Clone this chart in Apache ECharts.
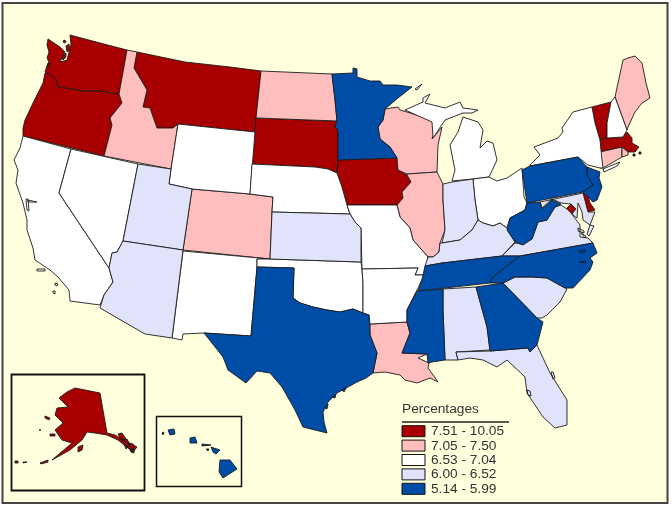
<!DOCTYPE html>
<html><head><meta charset="utf-8">
<style>html,body{margin:0;padding:0;background:#fff}#c{width:672px;height:508px}</style>
<script src="https://cdn.jsdelivr.net/npm/echarts@6/dist/echarts.min.js"></script>
</head><body><div id="c"></div>
<script>
const states=["Washington","Oregon","Montana","South Dakota","Iowa","Vermont","Massachusetts","Delaware","District of Columbia","Alaska",
"Idaho","North Dakota","Wisconsin","Illinois","Colorado","Louisiana","Maine","Connecticut","Rhode Island",
"California","Nevada","Wyoming","Nebraska","New Mexico","Oklahoma","Missouri","Arkansas","Michigan","Ohio","New York","New Hampshire",
"Utah","Arizona","Kansas","Indiana","Kentucky","Virginia","Alabama","South Carolina","Florida","Maryland",
"Minnesota","Texas","Tennessee","Mississippi","Georgia","North Carolina","West Virginia","Pennsylvania","New Jersey","Hawaii"];
const rates=[8.2,8.0,8.4,7.9,7.7,8.1,7.8,7.6,10.05,8.6,
7.3,7.2,7.4,7.2,7.3,7.1,7.4,7.3,7.2,
6.8,6.9,6.7,6.8,6.7,6.6,6.9,6.8,6.9,6.7,6.8,6.6,
6.3,6.2,6.4,6.3,6.2,6.1,6.2,6.3,6.4,6.2,
5.8,5.7,5.6,5.14,5.7,5.6,5.5,5.9,5.8,5.6];
const legendLabels=["7.51 - 10.05","7.05 - 7.50","6.53 - 7.04","6.00 - 6.52","5.14 - 5.99"];
const legendTitle="Percentages";
const classMin=[7.51,7.05,6.53,6.00,5.14];
const classMax=[10.05,7.50,7.04,6.52,5.99];
const classColors=["#A80000","#FFBEBE","#FFFFFF","#E1E3FB","#004DA8"];
// Outlines (x, y in picture space)
const outlines={
"Washington":[[[48,39],[60,47],[65,52],[60,62],[67,60],[71,45],[70,35],[100,43],[127,50],[119,94],[100,91],[83,91],[72,89],[58,87],[55,78],[47,73],[45,72],[47,66],[49,62],[47,58],[49,52],[47,45]],[[64,40],[66,41],[65,43],[63,42]],[[66,46],[69,44],[70,50],[67,52]],[[62,57],[66,53],[66,57],[63,60]],[[48,63],[50,63],[49,67],[47,67]]],
"Oregon":[[[45,73],[47,73],[55,78],[58,87],[72,89],[83,91],[100,91],[119,94],[122,103],[110,118],[112,125],[104,156],[23,136],[23,128],[25,120],[33,103],[43,83]]],
"Idaho":[[[127,50],[137,52],[134,68],[147,90],[143,107],[150,108],[157,128],[173,128],[178,124],[171,169],[104,156],[112,125],[110,118],[122,103],[119,94]]],
"Montana":[[[137,52],[185,62],[230,67],[261,71],[256,118],[255,132],[178,124],[173,128],[157,128],[150,108],[143,107],[147,90],[134,68]]],
"Wyoming":[[[178,124],[255,132],[250,194],[192,189],[169,184],[171,169]]],
"Utah":[[[138,164],[171,169],[169,184],[192,189],[183,250],[123,241]]],
"Colorado":[[[192,189],[250,194],[273,197],[272,212],[270,259],[183,250]]],
"Nebraska":[[[252,164],[315,167],[328,169],[337,173],[342,187],[347,205],[350,214],[272,212],[273,197],[250,194]]],
"South Dakota":[[[256,118],[337,121],[335,127],[338,130],[338,160],[337,173],[328,169],[315,167],[252,164]]],
"North Dakota":[[[261,71],[332,74],[335,100],[337,121],[256,118]]],
"Minnesota":[[[332,74],[353,73],[353,68],[357,69],[357,77],[370,81],[380,81],[383,85],[397,85],[412,87],[398,98],[385,109],[383,120],[378,127],[380,139],[390,147],[397,158],[338,160],[338,130],[335,127],[337,121],[335,100]]],
"Iowa":[[[338,160],[397,158],[398,170],[407,175],[411,182],[402,192],[403,198],[397,205],[347,205],[342,187],[337,173]]],
"Wisconsin":[[[397,158],[390,147],[380,139],[378,127],[383,120],[385,109],[398,107],[400,110],[407,112],[432,120],[435,130],[432,139],[442,127],[438,145],[437,172],[407,174],[398,170]]],
"Illinois":[[[407,174],[437,172],[443,184],[443,200],[445,230],[440,243],[439,252],[433,257],[428,257],[413,240],[410,228],[400,217],[397,205],[403,198],[402,192],[411,182],[407,175]]],
"Missouri":[[[347,205],[397,205],[400,217],[410,228],[413,240],[428,257],[427,267],[424,275],[415,275],[418,268],[362,269],[361,228],[355,222],[350,214]]],
"Kansas":[[[272,212],[350,214],[355,222],[361,228],[361,262],[270,259]]],
"Oklahoma":[[[257,259],[270,259],[361,262],[362,269],[363,283],[363,313],[353,309],[340,312],[327,310],[313,307],[300,303],[293,298],[294,268],[257,267]]],
"Texas":[[[257,267],[294,268],[293,298],[300,303],[313,307],[327,310],[340,312],[353,309],[363,313],[369,315],[370,335],[377,353],[373,373],[366,378],[357,382],[348,387],[337,393],[328,402],[323,412],[324,422],[327,433],[303,427],[295,410],[282,387],[270,373],[257,371],[246,383],[228,370],[223,357],[204,333],[251,336]],[[342,390],[346,388],[344,392]],[[332,397],[336,394],[335,398]],[[325,408],[328,404],[327,409]]],
"New Mexico":[[[183,251],[270,259],[257,259],[257,267],[251,336],[204,333],[183,334],[182,340],[172,338]]],
"Arizona":[[[123,241],[183,250],[172,338],[145,334],[100,308],[104,295],[113,282],[109,268],[112,253],[117,252]]],
"Nevada":[[[71,149],[138,164],[123,241],[117,252],[112,253],[109,268],[59,193]]],
"California":[[[23,136],[71,149],[59,193],[109,268],[113,282],[104,295],[100,305],[70,301],[69,290],[58,277],[50,270],[35,260],[33,248],[27,230],[27,220],[23,203],[16,183],[18,170],[14,160],[20,148]],[[37,269],[45,269],[45,271],[37,271]],[[55,283],[58,284],[57,286],[55,285]],[[53,291],[55,291],[55,294],[53,293]],[[26,199],[28,199],[29,211],[27,210]],[[28,200],[37,202],[37,203],[28,202]]],
"Arkansas":[[[362,269],[418,268],[415,275],[424,275],[418,288],[407,310],[407,322],[370,324],[369,315],[363,313],[363,283]]],
"Louisiana":[[[370,324],[407,322],[410,333],[402,353],[427,354],[418,358],[429,363],[428,368],[438,382],[430,378],[417,383],[405,380],[400,375],[385,372],[373,373],[377,353],[370,335]]],
"Mississippi":[[[417,291],[443,289],[443,310],[445,360],[432,362],[428,363],[427,354],[402,353],[410,333],[407,322],[407,310]]],
"Tennessee":[[[425,266],[442,263],[502,256],[520,256],[508,265],[492,278],[490,283],[418,291],[422,280]]],
"North Carolina":[[[520,256],[593,243],[597,253],[590,258],[593,262],[590,270],[573,288],[565,288],[547,278],[533,277],[515,277],[503,283],[490,283],[492,278],[508,265]],[[579,251],[585,250],[585,252],[580,253]],[[580,262],[586,261],[585,263]]],
"Virginia":[[[502,256],[515,243],[522,244],[532,239],[538,222],[547,220],[555,207],[561,205],[567,209],[571,213],[580,225],[580,237],[588,238],[593,243],[520,256]],[[590,225],[594,226],[589,236],[587,234]],[[578,228],[584,231],[584,233],[578,231]],[[581,233],[586,236],[585,238]]],
"West Virginia":[[[527,203],[540,202],[542,209],[552,200],[561,204],[555,207],[547,220],[538,222],[532,239],[523,245],[515,242],[507,230],[510,218],[525,210]]],
"Maryland":[[[540,202],[583,193],[588,212],[595,212],[590,225],[583,220],[582,212],[578,203],[577,218],[572,214],[576,209],[571,204],[561,203],[552,199],[542,208]]],
"Delaware":[[[583,193],[587,193],[590,203],[595,210],[588,212]]],
"District of Columbia":[[[571,204],[576,209],[571,214],[566,209]]],
"Pennsylvania":[[[522,170],[530,166],[578,157],[587,167],[587,175],[593,185],[583,192],[527,203]]],
"New Jersey":[[[587,167],[600,172],[599,178],[602,187],[597,200],[593,202],[583,192],[593,185],[587,175]]],
"New York":[[[530,165],[540,155],[534,147],[558,138],[563,132],[562,128],[573,112],[592,107],[595,123],[600,140],[602,160],[603,168],[600,168],[588,165],[578,157],[530,166]],[[603,169],[620,162],[617,166],[604,172]]],
"Vermont":[[[592,107],[611,102],[607,123],[607,138],[600,140],[595,123]]],
"New Hampshire":[[[611,102],[615,97],[627,130],[623,137],[607,138],[607,123]]],
"Maine":[[[615,97],[623,60],[628,58],[635,56],[642,63],[646,83],[650,98],[642,103],[635,112],[628,127],[627,130]]],
"Massachusetts":[[[600,140],[607,138],[623,137],[627,132],[632,138],[632,143],[639,147],[635,152],[628,152],[622,147],[600,152]],[[633,154],[635,154],[635,156],[633,156]],[[639,152],[641,152],[641,154],[639,154]]],
"Connecticut":[[[600,152],[622,147],[622,157],[603,168],[600,168]]],
"Rhode Island":[[[622,147],[628,152],[628,155],[622,157]]],
"Ohio":[[[473,179],[489,177],[497,181],[507,178],[522,168],[524,197],[527,203],[525,210],[510,218],[507,228],[500,223],[493,226],[483,223],[478,220],[475,200]]],
"Indiana":[[[443,184],[452,182],[473,179],[475,200],[478,220],[472,230],[460,240],[442,243],[445,230],[443,200]]],
"Kentucky":[[[440,243],[442,243],[460,240],[472,230],[478,220],[483,223],[493,226],[500,223],[507,228],[515,242],[502,256],[442,263],[425,266],[428,257],[433,257],[439,252]]],
"Michigan":[[[452,181],[473,179],[489,177],[497,160],[493,143],[487,141],[480,148],[483,130],[478,122],[463,117],[458,132],[450,145],[455,170]],[[405,110],[423,102],[423,98],[430,94],[425,103],[445,108],[460,102],[463,108],[478,110],[472,113],[463,113],[445,120],[433,138],[432,122]],[[415,89],[422,84],[423,85],[417,90]]],
"Alabama":[[[443,289],[476,287],[487,327],[490,350],[456,352],[458,360],[445,360],[443,310]]],
"Georgia":[[[476,287],[503,283],[537,318],[543,322],[537,345],[530,352],[528,348],[490,351],[487,327]]],
"South Carolina":[[[503,283],[515,277],[533,277],[547,278],[567,289],[560,302],[547,315],[542,318],[537,318]]],
"Florida":[[[456,352],[490,351],[528,348],[530,352],[537,345],[550,373],[567,400],[567,425],[555,428],[543,417],[527,393],[525,377],[507,360],[497,367],[483,360],[470,358],[458,360]],[[551,372],[553,372],[555,378],[553,379]],[[527,390],[530,391],[531,396],[528,395]]],
"Alaska":[[[75,388],[100,393],[107,433],[115,435],[120,438],[137,447],[133,452],[118,440],[107,435],[95,433],[87,432],[82,440],[70,450],[52,460],[72,443],[62,440],[55,430],[63,423],[55,415],[57,408],[68,407],[59,398],[67,392]],[[45,416],[50,418],[49,420],[45,418]],[[50,434],[55,434],[55,436],[50,436]],[[78,447],[83,445],[82,450],[78,452]],[[40,463],[48,460],[48,462],[41,464]],[[15,461],[18,461],[18,463],[15,463]],[[23,462],[27,462],[27,463],[23,463]],[[39,430],[41,430],[40,431]],[[118,434],[122,433],[126,439],[121,440]],[[122,440],[127,439],[130,445],[126,446]],[[128,443],[133,444],[135,449],[130,449]],[[124,444],[128,447],[126,449]],[[130,450],[134,450],[134,453],[131,452]]],
"Hawaii":[[[220,460],[230,460],[237,469],[223,478],[219,472]],[[211,447],[220,450],[216,454],[213,452]],[[202,444],[211,445],[210,446],[202,446]],[[206,449],[209,449],[208,451]],[[190,438],[195,437],[197,443],[190,443]],[[168,430],[174,429],[175,434],[170,435]],[[162,433],[164,432],[163,435]]]
};
const geo={type:"FeatureCollection",features:states.map(n=>({type:"Feature",properties:{name:n},
  geometry:{type:"MultiPolygon",coordinates:outlines[n].map(r=>[r.concat([r[0]]).map(p=>[p[0],-p[1]])])}}))};
echarts.registerMap("usa",geo);
const chart=echarts.init(document.getElementById("c"),null,{renderer:"canvas"});
const legendX=402,legendTop=425.7,rowH=14.4;
const graphics=[
 {type:"rect",z:0,shape:{x:2.5,y:3,width:665,height:500},style:{fill:"#FFFFDE",stroke:"#444",lineWidth:2}},
 {type:"rect",z:1,shape:{x:11.5,y:374.5,width:133,height:116},style:{fill:"none",stroke:"#111",lineWidth:1.8}},
 {type:"rect",z:1,shape:{x:156.5,y:416.5,width:85,height:70},style:{fill:"none",stroke:"#111",lineWidth:1.5}},
 {type:"text",z:5,style:{text:legendTitle,x:legendX,y:416.5,textVerticalAlign:"bottom",font:"13.7px 'Liberation Sans'",fill:"#333"}},
 {type:"line",z:5,shape:{x1:legendX,y1:422,x2:509,y2:422},style:{stroke:"#222",lineWidth:1.3}}
];
legendLabels.forEach((t,i)=>{
 graphics.push({type:"rect",z:5,shape:{x:legendX,y:legendTop+i*rowH,width:23,height:11},style:{fill:classColors[i],stroke:"#111",lineWidth:1}});
 graphics.push({type:"text",z:5,style:{text:t,x:431,y:legendTop+i*rowH+5.8,textVerticalAlign:"middle",font:"13.7px 'Liberation Sans'",fill:"#333"}});
});
chart.setOption({
 animation:false,
 graphic:{elements:graphics},
 visualMap:{show:false,type:"piecewise",seriesIndex:0,pieces:classMin.map((m,i)=>({gte:m,lte:classMax[i],color:classColors[i]}))},
 series:[{type:"map",map:"usa",silent:true,aspectScale:1,roam:false,left:0,top:0,width:672,height:508,
  boundingCoords:[[0,0],[672,-508]],
  label:{show:false},emphasis:{disabled:true},select:{disabled:true},
  itemStyle:{borderColor:"#1c1c1c",borderWidth:0.9},
  data:states.map((n,i)=>({name:n,value:rates[i]}))}]
});
</script></body></html>
